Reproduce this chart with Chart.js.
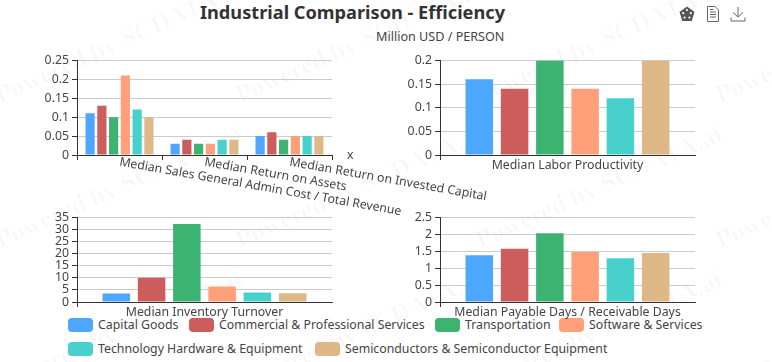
<!DOCTYPE html>
<html>
<head>
<meta charset="utf-8">
<script src="https://cdn.jsdelivr.net/npm/chart.js@4"></script>
<style>
  html, body { margin: 0; background: #fff; overflow: hidden; }
  body { width: 772px; height: 362px; position: relative; font-family: "Noto Sans", sans-serif; color: #333; }
  canvas { position: absolute; }
  .title { position: absolute; left: 0; width: 705px; top: -2px; text-align: center; font-size: 18.2px; font-weight: bold; line-height: 28px; }
  .subtitle { position: absolute; left: 376px; top: 28px; font-size: 12.6px; line-height: 18px; color: #444; }
  .wm { position: absolute; font: bold 26px "Liberation Serif", serif; color: rgba(0,0,0,.028); white-space: nowrap; transform-origin: 0 100%; transform: rotate(-24deg); }
  .legend { position: absolute; font-size: 12.3px; line-height: 18px; color: #444; white-space: nowrap; }
  .legend i { position: absolute; left: -30px; top: 2px; width: 25px; height: 14px; border-radius: 4px; }
  svg { position: absolute; top: 6px; }
</style>
</head>
<body>
<div class="title">Industrial Comparison - Efficiency</div>
<div class="subtitle">Million USD / PERSON</div>
<svg style="left:679px" width="16" height="16" viewBox="0 0 16 16"><path d="M8 .5 15.5 6 12.7 15H3.3L.5 6Z" fill="#555"/><g fill="#fff"><circle cx="8" cy="4" r="1.1"/><circle cx="4.2" cy="7.2" r="1.1"/><circle cx="11.8" cy="7.2" r="1.1"/><circle cx="5.6" cy="11.6" r="1.1"/><circle cx="10.4" cy="11.6" r="1.1"/></g></svg>
<svg style="left:706px" width="14" height="16" viewBox="0 0 14 16" fill="none" stroke="#666"><path d="M1.5 .5H9L12.5 4V15.5H1.5Z"/><path d="M4 6H10M4 8.5H10M4 11H10M4 3.5H7.5"/></svg>
<svg style="left:730px" width="16" height="16" viewBox="0 0 16 16" fill="none" stroke="#666"><path d="M8 1V11M3 6.5 8 11 13 6.5M1 11.5V15H15V11.5"/></svg>

<script>
const seriesNames = ["Capital Goods", "Commercial & Professional Services", "Transportation", "Software & Services", "Technology Hardware & Equipment", "Semiconductors & Semiconductor Equipment"];
const seriesColors = ["#4da6ff", "#cd5c5c", "#3cb371", "#ffa07a", "#48d1cc", "#deb887"];

// one value per series, in the order of seriesNames
const salesAdminCost = [0.11, 0.13, 0.10, 0.21, 0.12, 0.10];
const returnOnAssets = [0.03, 0.04, 0.03, 0.03, 0.04, 0.04];
const returnOnCapital = [0.05, 0.06, 0.04, 0.05, 0.05, 0.05];
const laborProductivity = [0.16, 0.14, 0.20, 0.14, 0.12, 0.20];
const inventoryTurnover = [3.5, 10, 32.3, 6.4, 3.9, 3.6];
const payableReceivable = [1.38, 1.57, 2.03, 1.48, 1.29, 1.45];

const returnLabels = ["Median Sales General Admin Cost / Total Revenue", "Median Return on Assets", "Median Return on Invested Capital"];
const laborLabels = ["Median Labor Productivity"];
const inventoryLabels = ["Median Inventory Turnover"];
const payableLabels = ["Median Payable Days / Receivable Days"];

const font = "Noto Sans";
const textColor = "#444";

// watermark
for (let row = 0; row < 3; row++) {
  for (let col = 0; col < 4; col++) {
    const s = document.createElement("div");
    s.className = "wm";
    s.textContent = "Powered by SCDATA.ai";
    s.style.left = (3 + col * 240) + "px";
    s.style.top = (80 + row * 145) + "px";
    document.body.appendChild(s);
  }
}

// legend
const legendSpots = [[98, 316], [219, 316], [465, 316], [589, 316], [98, 340], [345, 340]];
seriesNames.forEach((name, i) => {
  const d = document.createElement("div");
  d.className = "legend";
  d.style.left = legendSpots[i][0] + "px";
  d.style.top = legendSpots[i][1] + "px";
  d.innerHTML = '<i style="background:' + seriesColors[i] + '"></i>';
  d.appendChild(document.createTextNode(name));
  document.body.appendChild(d);
});

// the slanted labels and the "x" axis name of the first chart
const slantedLabels = {
  id: "slantedLabels",
  afterDraw(chart) {
    const scale = chart.scales.x;
    const ctx = chart.ctx;
    ctx.save();
    ctx.font = "12.3px '" + font + "'";
    ctx.fillStyle = textColor;
    ctx.textBaseline = "middle";
    returnLabels.forEach((label, i) => {
      ctx.save();
      ctx.translate(scale.getPixelForTick(i), scale.top + 7);
      ctx.rotate(10 * Math.PI / 180);
      ctx.fillText(label, 0, 0);
      ctx.restore();
    });
    ctx.fillText("x", scale.right + 15, scale.top);
    ctx.restore();
  }
};

function drawPanel(box, labels, rows, max, step, slanted) {
  const canvas = document.createElement("canvas");
  canvas.style.left = box.left + "px";
  canvas.style.top = box.top + "px";
  canvas.style.width = box.width + "px";
  canvas.style.height = box.height + "px";
  canvas.width = box.width;
  canvas.height = box.height;
  document.body.appendChild(canvas);

  new Chart(canvas, {
    type: "bar",
    data: {
      labels: labels,
      datasets: seriesNames.map((name, i) => ({
        label: name,
        data: rows.map((r) => r[i]),
        backgroundColor: seriesColors[i],
        categoryPercentage: 0.83,
        barPercentage: 0.78
      }))
    },
    options: {
      responsive: false,
      animation: false,
      layout: { padding: { top: box.padTop, right: box.padRight, left: 0, bottom: 0 } },
      plugins: { legend: { display: false }, title: { display: false }, tooltip: { enabled: false } },
      scales: {
        x: {
          afterFit: (s) => { s.height = box.bottom; },
          border: { color: "#333" },
          grid: {
            offset: true,
            drawOnChartArea: false,
            tickLength: 5,
            // the closing tick only shows on the three-category chart
            tickColor: (c) => (!slanted && c.index === undefined) ? "rgba(0,0,0,0)" : "#333"
          },
          ticks: { display: !slanted, color: textColor, font: { family: font, size: 12.3 }, maxRotation: 0, padding: -2, autoSkip: false }
        },
        y: {
          min: 0,
          max: max,
          afterFit: (s) => { s.width = 60; },
          border: { color: "#333" },
          grid: { color: "#ccc", tickColor: "#333", tickLength: 5 },
          ticks: {
            stepSize: step,
            autoSkip: false,
            color: textColor,
            font: { family: font, size: 12.3 },
            padding: 3,
            callback: (v) => String(+v.toFixed(2))
          }
        }
      }
    },
    plugins: slanted ? [slantedLabels] : []
  });
}

drawPanel({ left: 17, top: 50, width: 483, height: 170, padTop: 10, padRight: 168, bottom: 65 }, returnLabels, [salesAdminCost, returnOnAssets, returnOnCapital], 0.25, 0.05, true);
drawPanel({ left: 380, top: 50, width: 330, height: 130, padTop: 10, padRight: 15, bottom: 25 }, laborLabels, [laborProductivity], 0.2, 0.05, false);
drawPanel({ left: 17, top: 207, width: 330, height: 120, padTop: 10, padRight: 15, bottom: 25 }, inventoryLabels, [inventoryTurnover], 35, 5, false);
drawPanel({ left: 380, top: 207, width: 330, height: 120, padTop: 10, padRight: 15, bottom: 25 }, payableLabels, [payableReceivable], 2.5, 0.5, false);
</script>
</body>
</html>
